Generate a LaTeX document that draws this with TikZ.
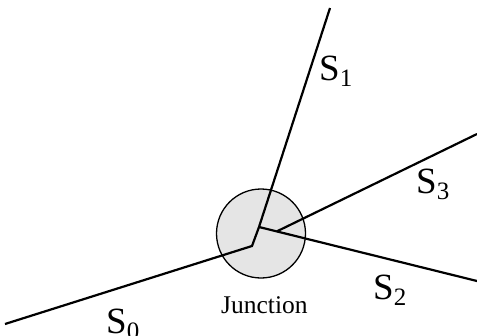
\documentclass[tikz,border=0pt]{standalone}
\usepackage{fontspec}
\setmainfont{Liberation Serif}
\newcommand{\seglabel}[1]{\fontsize{37}{37}\selectfont S\raisebox{-6pt}{\fontsize{25}{25}\selectfont #1}}
\begin{document}
\begin{tikzpicture}[x=1pt,y=-1pt,
  seg/.style={line width=2.2pt,line join=miter},
  junc/.style={circle,draw,line width=1.3pt,fill=black!10,minimum size=89pt,inner sep=0pt},
  lbl/.style={anchor=base west,inner sep=0pt}]
\useasboundingbox (0,0) rectangle (477,335);
\node[junc] (J) at (261,233.5) {};
\coordinate (a) at (5,324);
\coordinate (b) at (252,246);
\coordinate (c) at (259,227);
\coordinate (d) at (330,8);
\coordinate (e) at (477,281);
\coordinate (f) at (277,231.3);
\coordinate (g) at (477,134);
\draw[seg] (a) -- (b) -- (c) -- (d);
\draw[seg] (c) -- (e);
\draw[seg] (f) -- (g);
\node[lbl] (s1) at (319,80) {\seglabel{1}};
\node[lbl] (s3) at (416,193) {\seglabel{3}};
\node[lbl] (s2) at (373,299) {\seglabel{2}};
\node[lbl] (s0) at (106,333) {\seglabel{0}};
\node[lbl] (jl) at (221,313) {\fontsize{25.5}{25.5}\selectfont Junction};
\end{tikzpicture}
\end{document}
